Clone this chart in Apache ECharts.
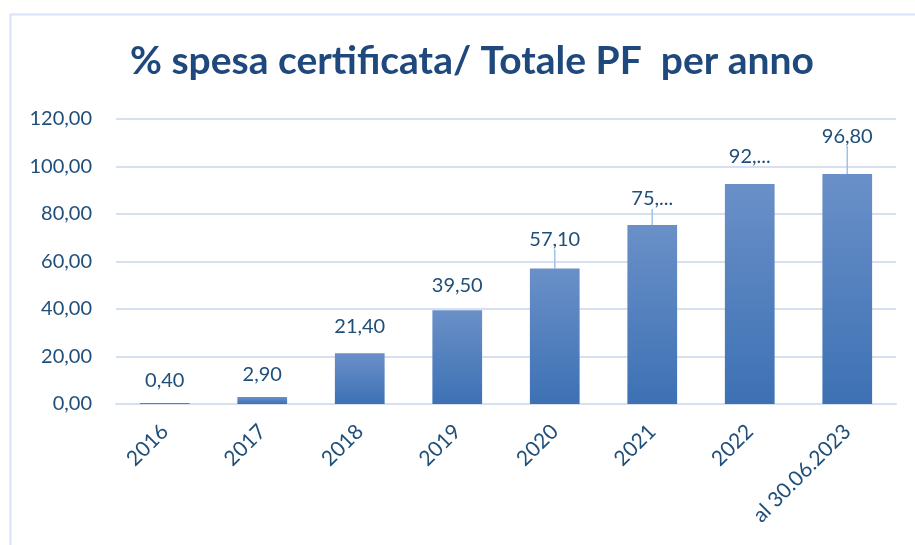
<!DOCTYPE html>
<html>
<head>
<meta charset="utf-8">
<script src="https://cdn.jsdelivr.net/npm/echarts@6/dist/echarts.min.js"></script>
<style>
html,body{margin:0;padding:0;background:#fff;}
#chart{width:915px;height:545px;}
</style>
</head>
<body>
<div id="chart"></div>
<script>
var titleText = '% spesa certificata/ Totale PF  per anno';
var categories = ['2016', '2017', '2018', '2019', '2020', '2021', '2022', 'al 30.06.2023'];
var values = [0.40, 2.90, 21.40, 39.50, 57.10, 75.40, 92.60, 96.80];
var valueLabels = ['0,40', '2,90', '21,40', '39,50', '57,10', '75,...', '92,...', '96,80'];
var yTicks = [0, 20, 40, 60, 80, 100, 120];

var labelLift = [5, 5, 9, 7, 11, 8, 10, 20];
var leader = [false, false, false, false, true, true, false, true];

var chart = echarts.init(document.getElementById('chart'), null, {renderer: 'canvas'});
var textColor = '#1F4E79';
var fontFam = 'Lato, "Open Sans", sans-serif';

var option = {
  animation: false,
  backgroundColor: '#ffffff',
  title: {
    text: titleText,
    left: 125,
    top: 37,
    textStyle: {
      fontFamily: fontFam,
      fontWeight: 'bold',
      fontSize: 39,
      color: '#1F497D'
    }
  },
  graphic: [{
    type: 'rect',
    left: 8,
    top: 12,
    shape: {x: 0, y: 0, width: 1000, height: 1000},
    style: {fill: 'none', stroke: '#D6E3F4', lineWidth: 2},
    silent: true
  }],
  grid: {left: 116, right: 19, top: 119, bottom: 141},
  xAxis: {
    type: 'category',
    data: categories,
    axisLine: {show: true, lineStyle: {color: '#D6E0F0', width: 2}},
    axisTick: {show: false},
    axisLabel: {
      rotate: 45,
      margin: 24,
      interval: 0,
      color: textColor,
      fontFamily: fontFam,
      fontSize: 21
    }
  },
  yAxis: {
    type: 'value',
    min: yTicks[0],
    max: yTicks[yTicks.length - 1],
    interval: yTicks[1] - yTicks[0],
    axisLine: {show: false},
    axisTick: {show: false},
    splitLine: {lineStyle: {color: '#D6E0F0', width: 2}},
    axisLabel: {
      margin: 24,
      color: textColor,
      fontFamily: fontFam,
      fontSize: 20,
      formatter: function (v) { return v.toFixed(2).replace('.', ','); }
    }
  },
  series: [{
    type: 'bar',
    barCategoryGap: '49%',
    data: values.map(function (v, i) {
      return {
        value: v,
        labelLine: {show: leader[i]}
      };
    }),
    itemStyle: {
      color: new echarts.graphic.LinearGradient(0, 0, 0, 1, [
        {offset: 0, color: '#6A90C8'},
        {offset: 1, color: '#3D71B4'}
      ])
    },
    label: {
      show: true,
      position: 'top',
      distance: 8,
      color: textColor,
      fontFamily: fontFam,
      fontSize: 20,
      formatter: function (p) { return valueLabels[p.dataIndex]; }
    },
    labelLine: {
      lineStyle: {color: '#9DC3E6', width: 1.5}
    },
    labelLayout: function (p) {
      return {dy: -labelLift[p.dataIndex]};
    }
  }]
};
chart.setOption(option);
</script>
</body>
</html>
